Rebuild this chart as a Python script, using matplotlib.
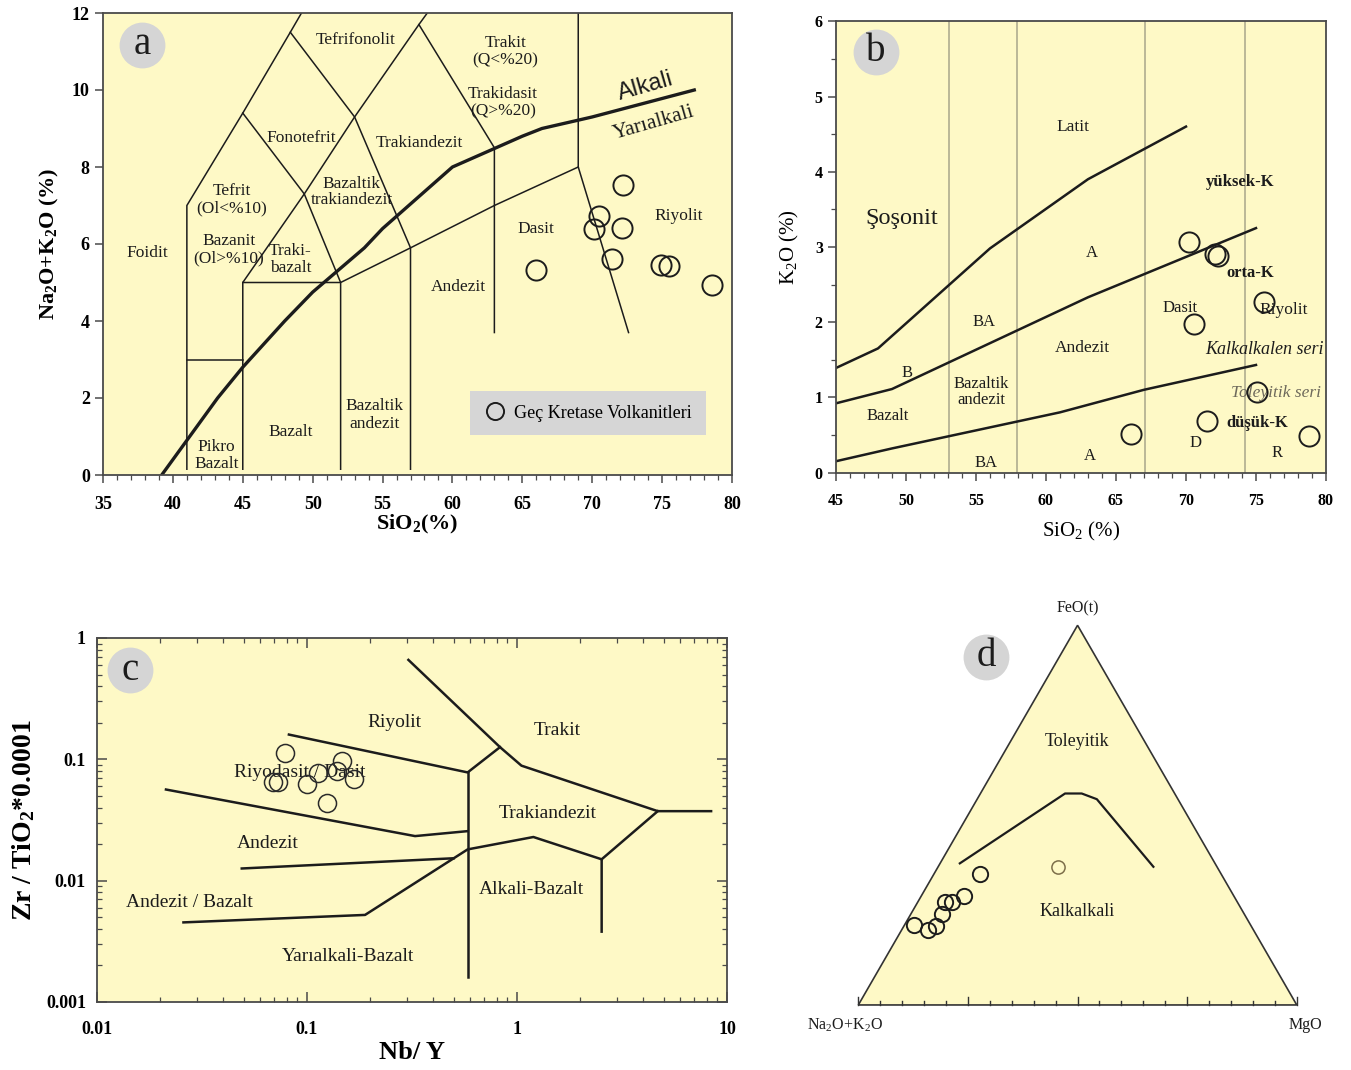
import numpy as np
import matplotlib
matplotlib.use("Agg")
import matplotlib.pyplot as plt
from matplotlib.patches import Polygon
from matplotlib.ticker import LogLocator, NullFormatter

SERIF = ["Liberation Serif", "DejaVu Serif"]
SANS = ["Liberation Sans", "DejaVu Sans"]
plt.rcParams["font.family"] = SERIF
plt.rcParams["mathtext.fontset"] = "custom"
plt.rcParams["mathtext.rm"] = "Liberation Serif"
plt.rcParams["mathtext.it"] = "Liberation Serif:italic"
plt.rcParams["mathtext.bf"] = "Liberation Serif:bold"
plt.rcParams["mathtext.default"] = "rm"

BG = "#FEF9C6"
INK = "#1c1c1c"
FRAME = "#4a4a4a"
BADGE = "#d5d5d5"
GRID_B = "#a8a68a"

# ---------------- samples: Geç Kretase Volkanitleri ----------------
# (a) total alkali vs silica
tas_sio2 = [66.0, 70.5, 70.1, 72.2, 72.1, 71.4, 74.9, 75.5, 78.6]
tas_alk = [5.32, 6.73, 6.39, 7.53, 6.42, 5.61, 5.45, 5.43, 4.94]

# (b) K2O vs SiO2
k_sio2 = [70.2, 72.1, 72.3, 75.6, 70.6, 75.05, 71.5, 66.1, 78.8]
k_k2o = [3.07, 2.90, 2.88, 2.27, 1.97, 1.07, 0.69, 0.51, 0.485]

# (c) Zr/TiO2 vs Nb/Y
nb_y = [0.0785, 0.146, 0.0686, 0.0724, 0.0997, 0.1125, 0.1384, 0.168, 0.125]
zr_tio2 = [0.113, 0.0976, 0.0652, 0.0652, 0.0628, 0.0773, 0.0796, 0.0694, 0.0438]

# (d) AFM: Na2O+K2O, FeO(t), MgO (%)
afm_alk = [76.7, 74.3, 71.8, 69.0, 66.6, 65.1, 61.5, 55.0, 36.2]
afm_feo = [21.1, 19.8, 20.9, 23.9, 27.2, 27.2, 28.7, 34.4, 36.4]
afm_mgo = [2.2, 5.9, 7.3, 7.1, 6.2, 7.7, 9.8, 10.6, 27.4]

# ---------------- classification boundaries ----------------
tas_fields = [
    [(41, 0.15), (41, 7), (45, 9.4), (48.4, 11.5), (49.2, 12)],
    [(41, 3), (45, 3)],
    [(45, 0.15), (45, 5), (49.4, 7.3), (53, 9.3), (57.6, 11.7), (58.2, 12)],
    [(45, 9.4), (49.4, 7.3), (52, 5), (52, 0.15)],
    [(45, 5), (52, 5), (57, 5.9), (63, 7), (69, 8)],
    [(48.4, 11.5), (53, 9.3), (57, 5.9), (57, 0.15)],
    [(57.6, 11.7), (63, 8.5), (63, 3.7)],
    [(69, 12), (69, 8), (72.6, 3.7)],
]
alk_div_sio2 = [39.2, 40, 43.2, 45, 48, 50, 53.7, 55, 60, 65, 66.4, 70, 77.3]
alk_div_na = [0, 0.4, 2.0, 2.8, 4.0, 4.75, 5.9, 6.4, 8.0, 8.8, 9.0, 9.3, 10.0]

k_series = [
    [(45, 1.39), (48, 1.65), (56, 2.98), (63, 3.9), (70, 4.6)],
    [(45, 0.92), (49, 1.11), (63, 2.33), (75, 3.25)],
    [(45, 0.15), (49, 0.32), (61, 0.8), (67, 1.1), (75, 1.43)],
]
k_rock_div = [53.1, 57.9, 67.1, 74.2]

wf_fields = [
    [(0.082, 0.16), (0.582, 0.078), (0.83, 0.126)],
    [(0.304, 0.66), (0.83, 0.126), (1.05, 0.0887), (4.68, 0.0374), (8.4, 0.0374)],
    [(4.68, 0.0374), (2.53, 0.015), (2.53, 0.0038)],
    [(0.0213, 0.0564), (0.327, 0.0233), (0.582, 0.0256)],
    [(0.0489, 0.0126), (0.5, 0.0153)],
    [(0.0258, 0.00453), (0.189, 0.00522), (0.582, 0.0181), (1.197, 0.0229), (2.53, 0.015)],
    [(0.582, 0.0782), (0.582, 0.0016)],
]

afm_div_alk = [58.2, 25.0, 21.2, 18.5, 14.5]
afm_div_feo = [37.3, 55.7, 55.7, 54.2, 36.4]
afm_div_mgo = [4.5, 19.3, 23.1, 27.3, 49.1]

W, H = 1351, 1070
fig = plt.figure(figsize=(W / 100, H / 100), dpi=100)
fig.patch.set_facecolor("white")


def place(left, top, right, bottom):
    return fig.add_axes([left / W, 1 - bottom / H, (right - left) / W, (bottom - top) / H])


def badge(ax, x, y, letter, transform=None):
    tr = transform if transform is not None else ax.transAxes
    ax.plot([x], [y], "o", ms=33, mfc=BADGE, mec="none", transform=tr, clip_on=False, zorder=5)
    ax.text(x, y, letter, transform=tr, fontsize=28, ha="center", va="center",
            color=INK, zorder=6)


def frame(ax, lw=1.3):
    for s in ax.spines.values():
        s.set_color(FRAME)
        s.set_linewidth(lw)


def label(ax, x, y, s, size=12.5, **kw):
    kw.setdefault("color", INK)
    ax.text(x, y, s, fontsize=size, ha="center", va="center", **kw)


# ======================= (a) TAS =======================
ax = place(103, 13, 732, 475)
ax.set_facecolor(BG)
ax.set_xlim(35, 80)
ax.set_ylim(0, 12)
frame(ax)
for seg in tas_fields:
    xs, ys = zip(*seg)
    ax.plot(xs, ys, color=INK, lw=1.1)
ax.plot(alk_div_sio2, alk_div_na, color=INK, lw=2.4)
ax.plot(tas_sio2, tas_alk, "o", ms=14.5, mfc="none", mec=INK, mew=1.4,
        label="Geç Kretase Volkanitleri")

ax.set_xticks(list(range(35, 81, 5)), labels=[str(v) for v in range(35, 81, 5)],
              fontweight="bold", fontsize=13)
ax.set_xticks(list(range(35, 81)), minor=True)
ax.set_yticks(list(range(0, 13, 2)), labels=[str(v) for v in range(0, 13, 2)],
              fontweight="bold", fontsize=13)
ax.tick_params(which="both", direction="out", top=False, right=False, color=FRAME)
ax.tick_params(which="major", length=6, width=1.1)
ax.tick_params(axis="x", which="major", pad=9)
ax.tick_params(which="minor", length=3.5, width=0.9)
ax.set_xlabel(r"SiO$_\mathbf{2}$(%)", fontsize=16, fontweight="bold", labelpad=0)
ax.set_ylabel(r"Na$_\mathbf{2}$O+K$_\mathbf{2}$O (%)", fontsize=16, fontweight="bold", labelpad=8)

label(ax, 53.1, 11.3, "Tefrifonolit")
label(ax, 63.8, 11.0, "Trakit\n(Q<%20)", linespacing=1.1)
label(ax, 63.6, 9.67, "Trakidasit\n(Q>%20)", linespacing=1.1)
label(ax, 49.2, 8.75, "Fonotefrit")
label(ax, 57.6, 8.62, "Trakiandezit")
label(ax, 44.2, 7.15, "Tefrit\n(Ol<%10)", linespacing=1.1)
label(ax, 52.8, 7.35, "Bazaltik\ntrakiandezit", linespacing=1.0)
label(ax, 44.0, 5.85, "Bazanit\n(Ol>%10)", linespacing=1.1)
label(ax, 48.4, 5.6, "Traki-\nbazalt", linespacing=1.1)
label(ax, 38.2, 5.77, "Foidit")
label(ax, 66.0, 6.4, "Dasit")
label(ax, 76.2, 6.73, "Riyolit")
label(ax, 60.4, 4.88, "Andezit")
label(ax, 48.4, 1.12, "Bazalt")
label(ax, 54.4, 1.56, "Bazaltik\nandezit", linespacing=1.1)
label(ax, 43.1, 0.5, "Pikro\nBazalt", linespacing=1.1)
ax.text(73.8, 10.1, "Alkali", fontsize=17, family=SANS, rotation=16,
        ha="center", va="center", color=INK)
ax.text(74.4, 9.15, "Yarıalkali", fontsize=15.5, rotation=16,
        ha="center", va="center", color=INK)
leg = ax.legend(loc="center", bbox_to_anchor=(0.771, 0.134), frameon=True,
                facecolor="#d6d6d6", edgecolor="none", framealpha=1, fancybox=False,
                fontsize=13, handletextpad=0.5, borderpad=0.75, markerscale=0.85,
                handlelength=1.2)
badge(ax, 0.062, 0.931, "a")

# ======================= (b) K2O vs SiO2 =======================
ax = place(836, 21.3, 1326, 472.5)
ax.set_facecolor(BG)
ax.set_xlim(45, 80)
ax.set_ylim(0, 6)
frame(ax)
for xv in k_rock_div:
    ax.axvline(xv, color=GRID_B, lw=1.1, zorder=1)
for seg in k_series:
    xs, ys = zip(*seg)
    ax.plot(xs, ys, color=INK, lw=1.8)
ax.plot(k_sio2, k_k2o, "o", ms=14.5, mfc="none", mec=INK, mew=1.4, zorder=4)

ax.set_xticks(list(range(45, 81, 5)), labels=[str(v) for v in range(45, 81, 5)],
              fontweight="bold", fontsize=11.5)
ax.set_xticks(list(range(45, 81)), minor=True)
ax.set_yticks(list(range(0, 7)), labels=[str(v) for v in range(0, 7)],
              fontweight="bold", fontsize=11.5)
ax.set_yticks(list(np.arange(0, 6.01, 0.5)), minor=True)
ax.tick_params(which="both", direction="out", top=False, right=False, color=FRAME)
ax.tick_params(which="major", length=6, width=1.1)
ax.tick_params(axis="x", which="major", pad=9)
ax.tick_params(which="minor", length=3.5, width=0.9)
ax.set_xlabel(r"SiO$_2$ (%)", fontsize=15, labelpad=8)
ax.set_ylabel(r"K$_2$O (%)", fontsize=15, labelpad=10)

label(ax, 61.9, 4.59, "Latit", 12.5)
label(ax, 49.7, 3.38, "Şoşonit", 17.5)
label(ax, 73.9, 3.86, "yüksek-K", 12, fontweight="bold")
label(ax, 63.3, 2.92, "A", 12)
label(ax, 74.6, 2.65, "orta-K", 12, fontweight="bold")
label(ax, 55.6, 2.0, "BA", 12)
label(ax, 69.6, 2.19, "Dasit", 12)
label(ax, 77.0, 2.16, "Riyolit", 12.5)
label(ax, 62.6, 1.66, "Andezit", 12.5)
label(ax, 75.6, 1.63, "Kalkalkalen seri", 13, style="italic")
label(ax, 50.1, 1.32, "B", 12)
label(ax, 55.4, 1.07, "Bazaltik\nandezit", 12, linespacing=1.0)
label(ax, 76.4, 1.06, "Toleyitik seri", 12.5, style="italic", color="#6e6a5c")
label(ax, 48.7, 0.75, "Bazalt", 12)
label(ax, 75.1, 0.66, "düşük-K", 12, fontweight="bold")
label(ax, 70.7, 0.39, "D", 12)
label(ax, 63.1, 0.22, "A", 12)
label(ax, 76.5, 0.26, "R", 12)
label(ax, 55.7, 0.13, "BA", 12)
badge(ax, 0.082, 0.932, "b")

# ======================= (c) Zr/TiO2 vs Nb/Y =======================
ax = place(97, 638, 727, 1002)
ax.set_facecolor(BG)
ax.set_xscale("log")
ax.set_yscale("log")
ax.set_xlim(0.01, 10)
ax.set_ylim(0.001, 1)
frame(ax)
for seg in wf_fields:
    xs, ys = zip(*seg)
    ax.plot(xs, ys, color=INK, lw=1.8)
ax.plot(nb_y, zr_tio2, "o", ms=13, mfc="none", mec="#2a2a2a", mew=1.1, zorder=4)

ax.set_xticks([0.01, 0.1, 1, 10], labels=["0.01", "0.1", "1", "10"],
              fontweight="bold", fontsize=13)
ax.set_yticks([0.001, 0.01, 0.1, 1], labels=["0.001", "0.01", "0.1", "1"],
              fontweight="bold", fontsize=13)
ax.xaxis.set_minor_locator(LogLocator(base=10, subs=np.arange(2, 10)))
ax.yaxis.set_minor_locator(LogLocator(base=10, subs=np.arange(2, 10)))
ax.xaxis.set_minor_formatter(NullFormatter())
ax.yaxis.set_minor_formatter(NullFormatter())
ax.tick_params(which="both", direction="in", top=True, right=True, color=FRAME)
ax.tick_params(which="major", length=7, width=1.1, pad=8)
ax.tick_params(axis="x", which="major", pad=14)
ax.tick_params(which="minor", length=3.5, width=0.9)
ax.set_xlabel("Nb/ Y", fontsize=19, fontweight="bold", labelpad=2)
ax.set_ylabel(r"Zr / TiO$_\mathbf{2}$*0.0001", fontsize=20, fontweight="bold", labelpad=6)

label(ax, 0.26, 0.2, "Riyolit", 14)
label(ax, 1.55, 0.172, "Trakit", 14)
label(ax, 0.0926, 0.0778, "Riyodasit / Dasit", 14)
label(ax, 1.405, 0.0358, "Trakiandezit", 14)
label(ax, 0.0652, 0.0203, "Andezit", 14)
label(ax, 1.166, 0.0085, "Alkali-Bazalt", 14)
label(ax, 0.0277, 0.00664, "Andezit / Bazalt", 14)
label(ax, 0.157, 0.00239, "Yarıalkali-Bazalt", 14)
badge(ax, 0.052, 0.912, "c")

# ======================= (d) AFM ternary =======================
ax = fig.add_axes([814.5 / W, 21.2 / H, 526.1 / W, 460.3 / H])
ax.set_xlim(-0.1, 1.1)
ax.set_ylim(-0.1, 0.95)
ax.axis("off")
R3 = np.sqrt(3) / 2


def tern(a, f, m):
    a, f, m = (np.asarray(v, dtype=float) for v in (a, f, m))
    s = a + f + m
    fr, mr = f / s, m / s
    return mr + fr / 2, fr * R3


ax.add_patch(Polygon([(0, 0), (1, 0), (0.5, R3)], closed=True, fc=BG, ec="#333333",
                     lw=1.2, zorder=1))
for i, t in enumerate(np.arange(0, 1.0001, 0.05)):
    ln = 0.018 if i % 5 == 0 else 0.009
    ax.plot([t, t], [0, ln], color="#333333", lw=1.0, zorder=2)
dx, dy = tern(afm_div_alk, afm_div_feo, afm_div_mgo)
ax.plot(dx, dy, color=INK, lw=1.6, zorder=3)
px, py = tern(afm_alk, afm_feo, afm_mgo)
ax.plot(px[:-1], py[:-1], "o", ms=11, mfc="none", mec=INK, mew=1.4, zorder=4)
ax.plot(px[-1:], py[-1:], "o", ms=9.5, mfc="none", mec="#7d6f4a", mew=1.1, zorder=4)

label(ax, 0.5, 0.905, "FeO(t)", 11.5)
label(ax, -0.03, -0.046, r"Na$_2$O+K$_2$O", 11.5)
label(ax, 1.02, -0.046, "MgO", 11.5)
label(ax, 0.499, 0.602, "Toleyitik", 13)
label(ax, 0.499, 0.214, "Kalkalkali", 13)
badge(ax, 0.291, 0.794, "d", transform=ax.transData)

fig.savefig("out.png", dpi=100, facecolor="white")
